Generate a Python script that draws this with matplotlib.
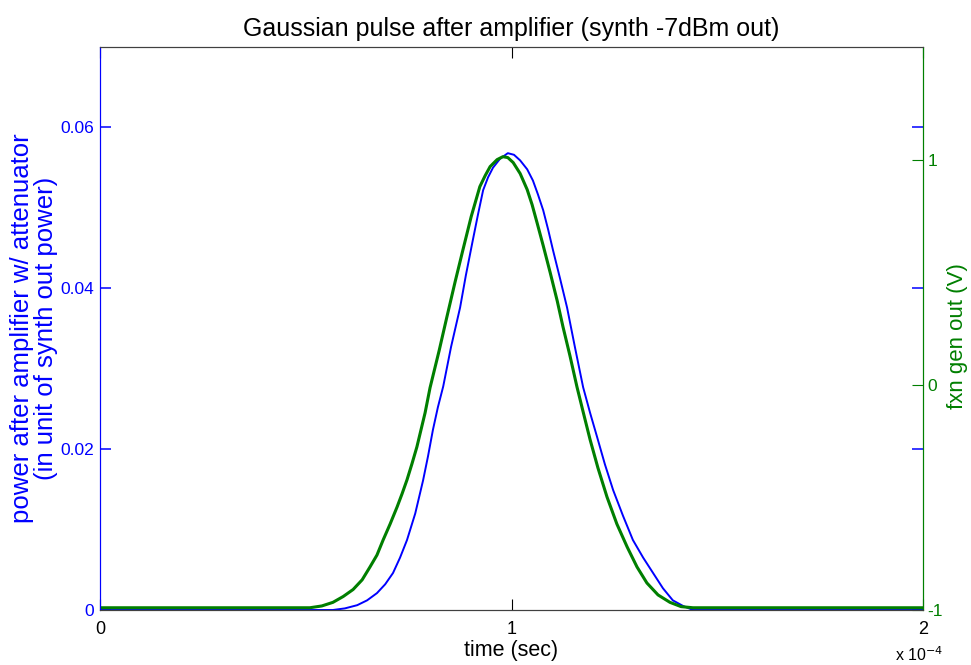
import matplotlib.pyplot as plt

plt.rcParams['font.family'] = ['Liberation Sans', 'DejaVu Sans']

# amplifier output power (left axis), time in units of 1e-4 s
t_amp = [0.0, 0.486, 0.566, 0.595, 0.625, 0.649, 0.673, 0.693, 0.712, 0.729,
         0.746, 0.766, 0.785, 0.797, 0.809, 0.821, 0.834, 0.853, 0.875, 0.889,
         0.906, 0.919, 0.931, 0.943, 0.955, 0.972, 0.991, 1.006, 1.021, 1.038,
         1.052, 1.064, 1.077, 1.089, 1.101, 1.118, 1.135, 1.154, 1.174, 1.191,
         1.208, 1.227, 1.247, 1.271, 1.295, 1.320, 1.344, 1.368, 1.392, 1.417,
         1.441, 2.0]
p_amp = [0.0, 0.0, 0.0, 0.0002, 0.0006, 0.0012, 0.0021, 0.0032, 0.0046, 0.0065,
         0.0087, 0.0120, 0.0161, 0.0191, 0.0224, 0.0252, 0.0278, 0.0327, 0.0376, 0.0416,
         0.0460, 0.0493, 0.0522, 0.0538, 0.0550, 0.0561, 0.0568, 0.0566, 0.0559, 0.0548,
         0.0534, 0.0517, 0.0497, 0.0473, 0.0447, 0.0412, 0.0376, 0.0327, 0.0277, 0.0245,
         0.0215, 0.0181, 0.0149, 0.0117, 0.0087, 0.0065, 0.0046, 0.0027, 0.0012, 0.0005,
         0.0, 0.0]

# function generator output (right axis)
t_gen = [0.0, 0.510, 0.539, 0.566, 0.591, 0.615, 0.637, 0.656, 0.673, 0.688,
         0.705, 0.722, 0.734, 0.746, 0.758, 0.770, 0.780, 0.790, 0.802, 0.824,
         0.843, 0.863, 0.882, 0.902, 0.923, 0.936, 0.948, 0.965, 0.979, 0.991,
         1.004, 1.021, 1.038, 1.050, 1.062, 1.077, 1.094, 1.111, 1.125, 1.142,
         1.159, 1.174, 1.191, 1.210, 1.232, 1.256, 1.281, 1.305, 1.329, 1.356,
         1.385, 1.412, 1.441, 2.0]
v_gen = [-0.99, -0.99, -0.982, -0.966, -0.940, -0.909, -0.866, -0.809, -0.756, -0.689,
         -0.618, -0.542, -0.484, -0.422, -0.351, -0.276, -0.200, -0.124, -0.013, 0.151,
         0.302, 0.458, 0.600, 0.747, 0.880, 0.929, 0.969, 1.000, 1.013, 1.009,
         0.987, 0.938, 0.867, 0.800, 0.720, 0.618, 0.498, 0.373, 0.258, 0.129,
         -0.009, -0.120, -0.244, -0.369, -0.498, -0.618, -0.720, -0.809, -0.880, -0.933,
         -0.966, -0.985, -0.99, -0.99]

xticks = [0, 1, 2]
left_ticks = [0, 0.02, 0.04, 0.06]
left_labels = ['0', '0.02', '0.04', '0.06']
right_ticks = [-1, 0, 1]
right_labels = ['-1', '0', '1']

blue = '#0000ff'
green = '#007f00'
gray = '#404040'

fig = plt.figure(figsize=(9.71, 6.65), dpi=100)
ax1 = fig.add_axes([0.103, 0.0827, 0.8476, 0.8466])
ax2 = ax1.twinx()

ax1.plot([v * 1e-4 for v in t_amp], p_amp, color=blue, lw=1.4)
ax2.plot([v * 1e-4 for v in t_gen], v_gen, color=green, lw=2.2)

ax1.set_xlim(0, 2e-4)
ax1.set_ylim(0, 0.07)
ax2.set_ylim(-1, 1.5)

ax1.set_xticks([v * 1e-4 for v in xticks])
ax1.set_xticklabels([str(v) for v in xticks])
ax1.set_yticks(left_ticks)
ax1.set_yticklabels(left_labels)
ax2.set_yticks(right_ticks)
ax2.set_yticklabels(right_labels)

ax1.tick_params(axis='x', direction='in', length=8, top=True, colors='black',
                labelsize=13, pad=8)
ax1.tick_params(axis='y', direction='in', length=8, width=1.1, right=True,
                colors=blue, labelsize=12.5, pad=4)
ax2.tick_params(axis='y', direction='in', length=8, colors=green,
                labelsize=12.5, pad=3)

for ax in (ax1, ax2):
    ax.spines['top'].set_color(gray)
    ax.spines['bottom'].set_color(gray)
    ax.spines['left'].set_color(blue)
    ax.spines['right'].set_color(green)

ax1.set_xlabel('time (sec)', fontsize=15.5, labelpad=1)
ax1.set_ylabel('power after amplifier w/ attenuator\n(in unit of synth out power)',
               color=blue, fontsize=18.5, linespacing=1.0, labelpad=2)
ax2.set_ylabel('fxn gen out (V)', color=green, fontsize=16)
ax2.yaxis.set_label_coords(1.029, 0.487)
ax1.set_title('Gaussian pulse after amplifier (synth -7dBm out)', fontsize=18, pad=8)
ax1.text(0.995, -0.080, 'x 10$^{-4}$', transform=ax1.transAxes, ha='center',
         va='center', fontsize=11.5)

fig.savefig('out.png', dpi=100)
